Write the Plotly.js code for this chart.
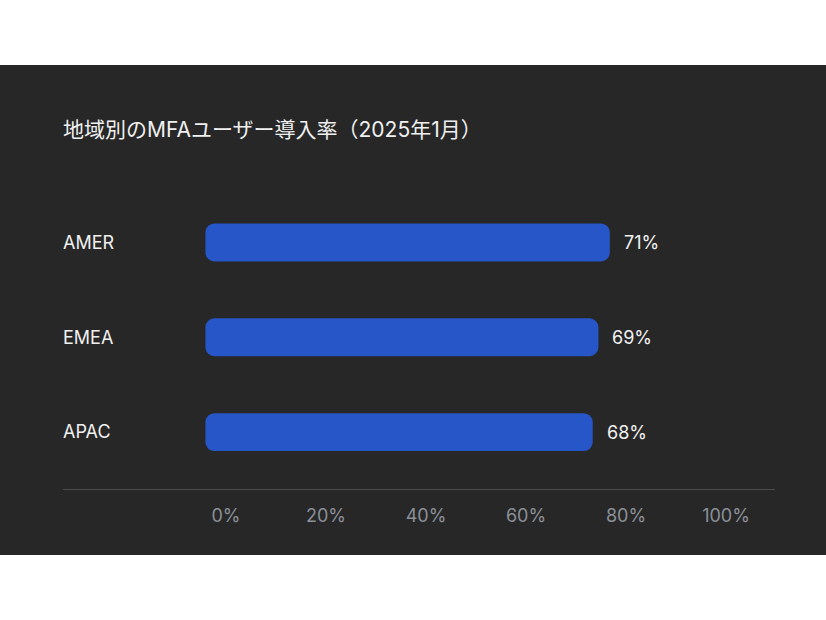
<!DOCTYPE html>
<html>
<head>
<meta charset="utf-8">
<script src="https://cdn.plot.ly/plotly-3.0.1.min.js"></script>
<style>
  html, body { margin: 0; padding: 0; background: #ffffff; }
  #chart { position: absolute; left: 0; top: 65px; width: 826px; height: 490px; }
</style>
</head>
<body>
<div id="chart"></div>
<script>
// データ
const regions = ['AMER', 'EMEA', 'APAC'];
const adoption = [71, 69, 68];
const tickValues = [0, 20, 40, 60, 80, 100];

const FONT = 'Inter, "Noto Sans CJK JP", sans-serif';

// base を明示すると両端が丸くなる
const bars = {
  type: 'bar',
  orientation: 'h',
  base: regions.map(() => 0),
  x: adoption,
  y: regions,
  marker: { color: '#2756c9', cornerradius: 9, line: { width: 0 } },
  hoverinfo: 'skip',
  showlegend: false
};

// 目盛り用の軸（xaxis2）を表示させるための空トレース
const tickHolder = {
  type: 'scatter',
  mode: 'markers',
  x: tickValues,
  y: tickValues.map(() => regions[0]),
  xaxis: 'x2',
  yaxis: 'y',
  marker: { opacity: 0 },
  hoverinfo: 'skip',
  showlegend: false
};

// 値ラベル
const valueLabels = regions.map((r, i) => ({
  x: adoption[i],
  y: r,
  xref: 'x',
  yref: 'y',
  text: adoption[i] + '%',
  showarrow: false,
  xanchor: 'left',
  xshift: 12,
  font: { family: FONT, size: 18, color: '#f2f2f2' }
}));

const layout = {
  paper_bgcolor: '#272727',
  plot_bgcolor: '#272727',
  margin: { l: 63, r: 51, t: 130, b: 66 },
  bargap: 0.6,
  title: {
    text: '地域別のMFAユーザー導入率（2025年1月）',
    xref: 'container',
    yref: 'container',
    x: 63 / 826,
    xanchor: 'left',
    y: 1 - 65 / 490,
    yanchor: 'middle',
    font: { family: FONT, size: 21, color: '#f0f0f0' }
  },
  xaxis: {
    range: [-25, 100],
    showticklabels: false,
    showgrid: false,
    zeroline: false,
    showline: true,
    linecolor: '#4a4a4a',
    linewidth: 1,
    fixedrange: true
  },
  xaxis2: {
    overlaying: 'x',
    anchor: 'y',
    side: 'bottom',
    range: [-32.6, 109.8],
    tickvals: tickValues,
    ticktext: tickValues.map(v => v + '%'),
    ticklabelstandoff: 14,
    showgrid: false,
    zeroline: false,
    showline: false,
    ticks: '',
    tickfont: { family: FONT, size: 18, color: '#8b9099' },
    fixedrange: true
  },
  yaxis: {
    type: 'category',
    categoryarray: regions,
    range: [2.6, -0.5],
    ticklabelposition: 'inside',
    ticklabelstandoff: -3,
    showgrid: false,
    zeroline: false,
    showline: false,
    ticks: '',
    tickfont: { family: FONT, size: 18, color: '#f0f0f0' },
    fixedrange: true
  },
  annotations: valueLabels
};

Plotly.newPlot('chart', [bars, tickHolder], layout, { displayModeBar: false, staticPlot: true });
</script>
</body>
</html>
